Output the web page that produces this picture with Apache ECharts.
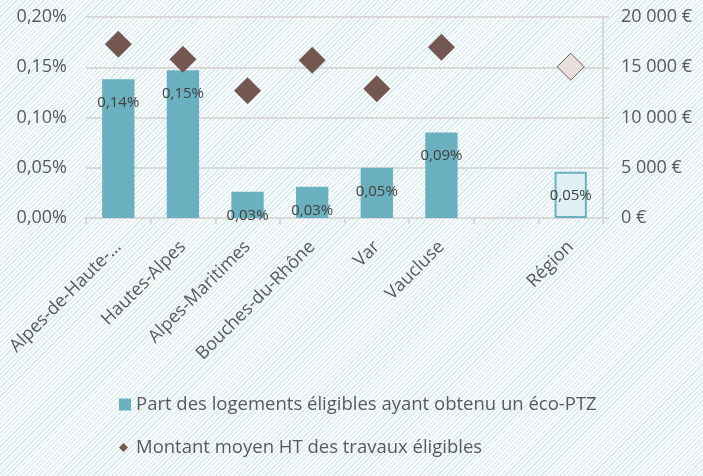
<!DOCTYPE html>
<html>
<head>
<meta charset="utf-8">
<script src="https://cdn.jsdelivr.net/npm/echarts@6/dist/echarts.min.js"></script>
<style>
  html, body { margin: 0; padding: 0; }
  #chart {
    width: 703px; height: 476px;
    background: repeating-linear-gradient(135deg, #ffffff 0px, #ffffff 1.6px, #dcedf2 1.6px, #dcedf2 3.2px);
  }
</style>
</head>
<body>
<div id="chart"></div>
<script>
// categories (one empty slot before the region, as in the source)
const departements = ['Alpes-de-Haute-…', 'Hautes-Alpes', 'Alpes-Maritimes', 'Bouches-du-Rhône', 'Var', 'Vaucluse', '', 'Région'];
// part des logements éligibles ayant obtenu un éco-PTZ (en %)
const partEcoPtz = [0.138, 0.147, 0.026, 0.031, 0.050, 0.085, null, 0.046];
// montant moyen HT des travaux éligibles (€)
const montantMoyen = [17300, 15800, 12650, 15700, 12850, 17000, null, 15050];
const leftTicks = [0, 0.05, 0.10, 0.15, 0.20];
const rightTicks = [0, 5000, 10000, 15000, 20000];

const nomBarres = 'Part des logements éligibles ayant obtenu un éco-PTZ';
const nomPoints = 'Montant moyen HT des travaux éligibles';

const txt = '#595959';
const grille = '#d9d9d9';
const police = 'Open Sans';

function pct(v, d) {
  return v.toFixed(d).replace('.', ',') + '%';
}
function euros(v) {
  return String(v).replace(/\B(?=(\d{3})+(?!\d))/g, ' ') + ' €';
}

const chart = echarts.init(document.getElementById('chart'));

const last = departements.length - 1;
const barData = partEcoPtz.map(function (v, i) {
  if (i === last) {
    return { value: v, itemStyle: { color: '#e0eff3', borderColor: '#6ab0bf', borderWidth: 2 } };
  }
  return v;
});
const pointData = montantMoyen.map(function (v, i) {
  if (i === last) {
    return { value: v, itemStyle: { color: '#eadfdf', borderColor: '#735750', borderWidth: 1 } };
  }
  return v;
});

chart.setOption({
  backgroundColor: 'transparent',
  textStyle: { fontFamily: police },
  grid: { left: 86, right: 100, top: 17, bottom: 258, containLabel: false },
  legend: [
    {
      data: [nomBarres],
      orient: 'vertical',
      left: 114, top: 390,
      icon: 'rect', itemWidth: 12, itemHeight: 12, itemGap: 8,
      textStyle: { color: txt, fontSize: 18.5, fontFamily: police }
    },
    {
      data: [nomPoints],
      orient: 'vertical',
      left: 114, top: 433,
      icon: 'diamond', itemWidth: 9, itemHeight: 9, itemGap: 8,
      textStyle: { color: txt, fontSize: 18.5, fontFamily: police, padding: [0, 0, 0, 3] }
    }
  ],
  xAxis: {
    type: 'category',
    data: departements,
    axisLine: { show: true, lineStyle: { color: grille, width: 2 } },
    axisTick: { show: true, length: 6, alignWithLabel: false, lineStyle: { color: grille, width: 2 } },
    axisLabel: { rotate: 45, color: txt, fontSize: 18, margin: 26, interval: 0 }
  },
  yAxis: [
    {
      type: 'value',
      min: leftTicks[0], max: leftTicks[leftTicks.length - 1], interval: 0.05,
      axisLine: { show: false },
      axisTick: { show: false },
      splitLine: { lineStyle: { color: grille, width: 2 } },
      axisLabel: { color: txt, fontSize: 18, margin: 19, formatter: function (v) { return pct(v, 2); } }
    },
    {
      type: 'value',
      min: rightTicks[0], max: rightTicks[rightTicks.length - 1], interval: 5000,
      position: 'right',
      axisLine: { show: true, lineStyle: { color: grille, width: 2 } },
      axisTick: { show: true, length: 6, lineStyle: { color: grille, width: 2 } },
      splitLine: { show: false },
      axisLabel: { color: txt, fontSize: 18, margin: 18, formatter: euros }
    }
  ],
  series: [
    {
      name: nomBarres,
      type: 'bar',
      yAxisIndex: 0,
      barWidth: '50%',
      itemStyle: { color: '#6ab0bf' },
      label: {
        show: true, position: 'insideTop', distance: 16,
        color: '#404040', fontSize: 15, fontFamily: police,
        formatter: function (p) { return pct(p.value, 2); }
      },
      data: barData
    },
    {
      name: nomPoints,
      type: 'scatter',
      yAxisIndex: 1,
      symbol: 'diamond',
      symbolSize: 27,
      itemStyle: { color: '#735750', opacity: 1 },
      data: pointData
    }
  ]
});
</script>
</body>
</html>
